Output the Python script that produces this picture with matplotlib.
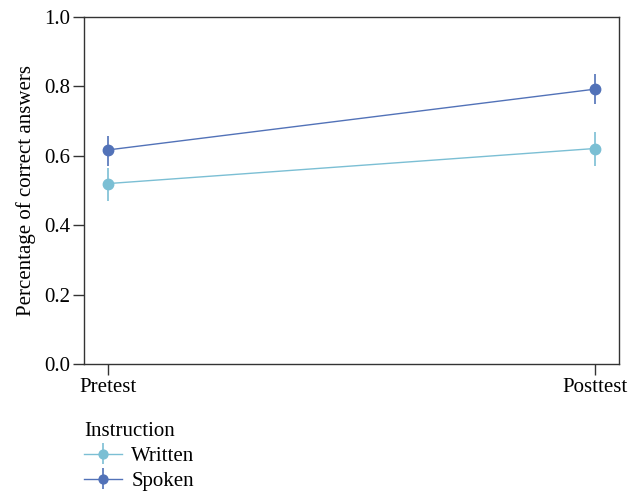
import matplotlib
matplotlib.use("Agg")
import matplotlib.pyplot as plt

plt.rcParams['font.family'] = ['Liberation Serif', 'DejaVu Serif']

phases = ["Pretest", "Posttest"]
groups = ["Written", "Spoken"]
means = {"Written": [0.520, 0.621], "Spoken": [0.617, 0.792]}
lower = {"Written": [0.471, 0.572], "Spoken": [0.572, 0.749]}
upper = {"Written": [0.566, 0.670], "Spoken": [0.656, 0.835]}
colors = {"Written": "#7bbfd4", "Spoken": "#5272b8"}

FS = 15

fig = plt.figure(figsize=(6.39, 4.92), dpi=100)
ax = fig.add_axes([84/639, 1-364/492, (619-84)/639, (364-17)/492])

x = list(range(len(phases)))
handles = []
for g in groups:
    m = means[g]
    err = [[m[i]-lower[g][i] for i in x], [upper[g][i]-m[i] for i in x]]
    c = ax.errorbar(x, m, yerr=err, color=colors[g], marker='o', markersize=7.5,
                    linewidth=1.0, elinewidth=1.2, capsize=0, zorder=3, label=g)
    handles.append(c)

ax.set_xlim(-0.05, 1.05)
ax.set_ylim(0, 1.0)
ax.set_xticks(x)
ax.set_xticklabels(phases)
ax.set_yticks([0, 0.2, 0.4, 0.6, 0.8, 1.0])
ax.set_yticklabels(["0.0", "0.2", "0.4", "0.6", "0.8", "1.0"])
ax.tick_params(labelsize=FS, length=8, width=1.0, color="#333333", pad=2)
for s in ax.spines.values():
    s.set_linewidth(1.0)
    s.set_color("#333333")
ax.set_ylabel("Percentage of correct answers", fontsize=FS, labelpad=6)

leg = fig.legend(handles, groups, title="Instruction", loc="upper left",
                 bbox_to_anchor=(76/639, 1-414/492), frameon=False,
                 fontsize=FS, title_fontsize=FS, handlelength=1.8,
                 handletextpad=0.45, labelspacing=0.25, borderaxespad=0,
                 markerscale=0.85)
leg._legend_box.align = "left"

fig.savefig("out.png", dpi=100)
